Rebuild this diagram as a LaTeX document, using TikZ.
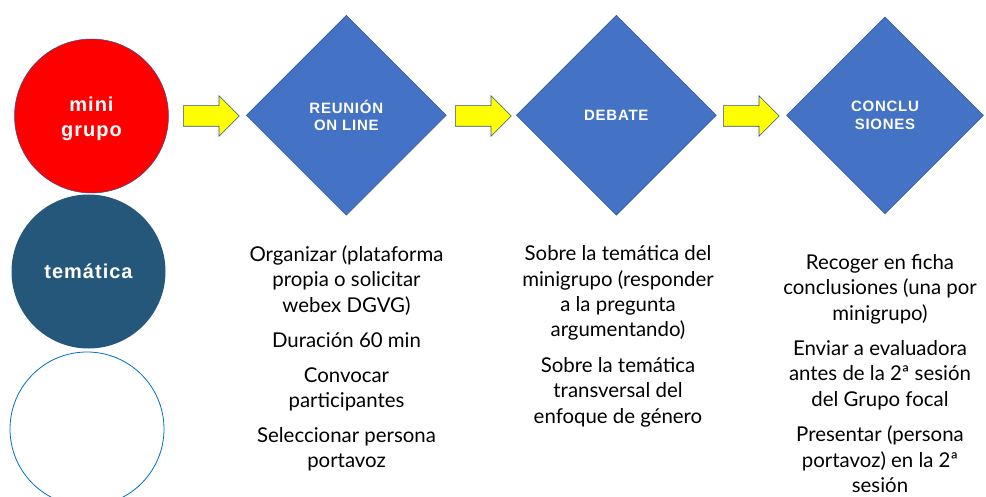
\documentclass[tikz,border=0pt]{standalone}
\usepackage{fontspec}
\usetikzlibrary{shapes.geometric,shapes.arrows}
\newfontfamily\bodyfont{Lato}
\newfontfamily\labelfont[LetterSpace=5]{Liberation Sans}
\definecolor{bordblue}{RGB}{47,82,143}
\definecolor{diamblue}{RGB}{68,114,196}
\definecolor{tealc}{RGB}{37,87,122}
\definecolor{ringblue}{RGB}{0,112,192}
\definecolor{arrowyellow}{RGB}{255,255,0}
\tikzset{
  bigcircle/.style={circle, minimum size=154pt, inner sep=0pt, text=white,
    align=center, font=\labelfont\bfseries\fontsize{20}{25.5}\selectfont},
  stepdiamond/.style={diamond, aspect=1, minimum width=200pt, minimum height=200pt,
    inner sep=0pt, fill=diamblue, draw=bordblue, line width=0.5pt, text=white,
    align=center, font=\labelfont\bfseries\fontsize{15}{17.5}\selectfont},
  yarrow/.style={single arrow, fill=arrowyellow, draw=bordblue, line width=0.6pt,
    minimum height=56pt, inner xsep=0pt, inner ysep=10pt,
    single arrow head extend=10pt, anchor=tail},
  bodytext/.style={anchor=north, inner sep=0pt, align=center, text=black,
    font=\bodyfont\fontsize{20.4}{25.4}\selectfont}
}
\begin{document}
\begin{tikzpicture}[x=1pt,y=-1pt]
\useasboundingbox (0,0) rectangle (986,497);
\clip (0,0) rectangle (986,497);
\fill[white] (0,0) rectangle (986,497);

\node[bigcircle, fill=red, draw=bordblue, line width=0.5pt] (mini) at (91.5,116) {};
\node[text=white, align=center, font=\labelfont\bfseries\fontsize{20}{25.5}\selectfont] (minilabel) at (91.5,119) {mini\\grupo};
\node[bigcircle, fill=tealc] (tematica) at (88.5,271.5) {temática};
\node[bigcircle, draw=ringblue, line width=0.8pt] (empty) at (87,429) {};

\node[yarrow] (a1) at (183,116) {};
\node[yarrow] (a2) at (455,116) {};
\node[yarrow] (a3) at (723,116) {};

\node[stepdiamond] (reunion) at (346.3,115.3) {REUNIÓN\\ON LINE};
\node[stepdiamond] (debate) at (616.3,115.3) {DEBATE};
\node[stepdiamond, minimum width=197pt, minimum height=197pt] (concl) at (885,115.3) {CONCLU\\SIONES};

\node[bodytext] (t1) at (346.5,245.5) {Organizar (plataforma\\propia o solicitar\\webex DGVG)\\[9.5pt]Duración 60 min\\[9.5pt]Convocar\\participantes\\[9.5pt]Seleccionar persona\\portavoz};
\node[bodytext] (t2) at (618,245.5) {Sobre la temática del\\minigrupo (responder\\a la pregunta\\argumentando)\\[10pt]Sobre la temática\\transversal del\\enfoque de género};
\node[bodytext] (t3) at (880,254) {Recoger en ficha\\conclusiones (una por\\minigrupo)\\[10pt]Enviar a evaluadora\\antes de la 2ª sesión\\del Grupo focal\\[10pt]Presentar (persona\\portavoz) en la 2ª\\sesión};
\end{tikzpicture}
\end{document}
